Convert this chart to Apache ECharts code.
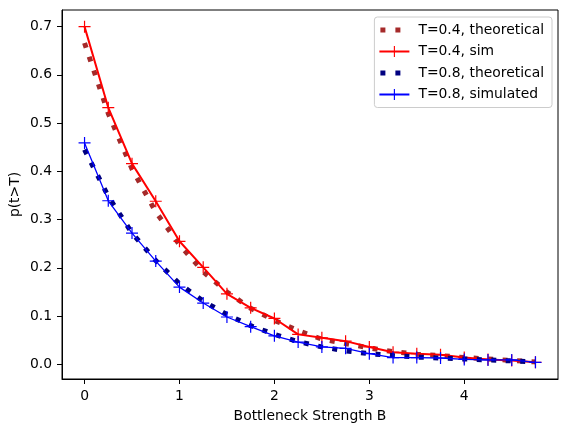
<!DOCTYPE html>
<html>
<head>
<meta charset="utf-8">
<script src="https://cdn.jsdelivr.net/npm/echarts@6/dist/echarts.min.js"></script>
<style>html,body{margin:0;padding:0;background:#fff}#c{width:567px;height:433px}</style>
</head>
<body>
<div id="c"></div>
<script>
// ---- data ----
const B = [0, 0.25, 0.5, 0.75, 1.0, 1.25, 1.5, 1.75, 2.0, 2.25, 2.5, 2.75, 3.0, 3.25, 3.5, 3.75, 4.0, 4.25, 4.5, 4.75];
const theo04 = [0.666, 0.520, 0.405, 0.316, 0.248, 0.192, 0.150, 0.116, 0.091, 0.070, 0.052, 0.043, 0.034, 0.026, 0.021, 0.018, 0.014, 0.011, 0.008, 0.005];
const sim04  = [0.700, 0.532, 0.416, 0.338, 0.255, 0.201, 0.146, 0.117, 0.095, 0.062, 0.055, 0.048, 0.036, 0.025, 0.022, 0.020, 0.014, 0.010, 0.008, 0.004];
const theo08 = [0.445, 0.348, 0.272, 0.215, 0.167, 0.131, 0.103, 0.080, 0.062, 0.047, 0.036, 0.028, 0.022, 0.018, 0.015, 0.013, 0.011, 0.009, 0.007, 0.005];
const sim08  = [0.459, 0.339, 0.272, 0.214, 0.160, 0.127, 0.098, 0.078, 0.059, 0.046, 0.036, 0.033, 0.022, 0.014, 0.014, 0.013, 0.010, 0.009, 0.009, 0.004];
const seriesNames = ['T=0.4, theoretical', 'T=0.4, sim', 'T=0.8, theoretical', 'T=0.8, simulated'];
const xTicks = [0, 1, 2, 3, 4];
const yTicks = [0.0, 0.1, 0.2, 0.3, 0.4, 0.5, 0.6, 0.7];
const xTitle = 'Bottleneck Strength B';
const yTitle = 'p(t>T)';

// ---- styling ----
const FONT = 'DejaVu Sans';
const FS = 13.9;
const plus = 'path://M0,5.4H12V6.6H0Z M5.4,0H6.6V12H5.4Z';
const dotsIcon = 'path://M0,0L30,14L0,0Z M1,4.5H6V9.5H1Z M16,4.5H21V9.5H16Z';

function pairs(xs, ys) { return xs.map((x, i) => [x, ys[i]]); }

const chart = echarts.init(document.getElementById('c'), null, {renderer: 'canvas'});
chart.setOption({
  animation: false,
  backgroundColor: '#fff',
  grid: {left: 62, right: 9, top: 10, bottom: 54, outerBoundsMode: 'none', containLabel: false,
         show: true, borderColor: '#000', borderWidth: 1, backgroundColor: 'transparent'},
  xAxis: {
    type: 'value', min: -0.2375, max: 4.9875,
    name: xTitle, nameLocation: 'middle', nameGap: 30, nameMoveOverlap: false,
    nameTextStyle: {fontFamily: FONT, fontSize: FS, color: '#000'},
    axisLine: {show: true, onZero: false, lineStyle: {color: '#000', width: 1}},
    axisTick: {show: true, inside: false, length: 5, customValues: xTicks, lineStyle: {color: '#000'}},
    axisLabel: {margin: 10, customValues: xTicks, fontFamily: FONT, fontSize: FS, color: '#000', formatter: v => String(v)},
    splitLine: {show: false}
  },
  yAxis: {
    type: 'value', min: -0.0305, max: 0.7345,
    name: yTitle, nameLocation: 'middle', nameGap: 40, nameRotate: 90, nameMoveOverlap: false,
    nameTextStyle: {fontFamily: FONT, fontSize: FS, color: '#000'},
    axisLine: {show: true, onZero: false, lineStyle: {color: '#000', width: 1}},
    axisTick: {show: true, inside: false, length: 5, customValues: yTicks, lineStyle: {color: '#000'}},
    axisLabel: {margin: 10, customValues: yTicks, fontFamily: FONT, fontSize: FS, color: '#000', formatter: v => v.toFixed(1)},
    splitLine: {show: false}
  },
  legend: {
    orient: 'vertical', right: 15, top: 17,
    itemWidth: 30, itemHeight: 14, itemGap: 5.5,
    padding: [5, 8, 5, 4],
    backgroundColor: 'rgba(255,255,255,0.8)', borderColor: '#cccccc', borderWidth: 1, borderRadius: 3,
    textStyle: {fontFamily: FONT, fontSize: FS, color: '#000', lineHeight: 16, padding: [0, 0, 0, 4]},
    itemStyle: {borderWidth: 0},
    data: [
      {name: seriesNames[0], icon: dotsIcon},
      {name: seriesNames[1]},
      {name: seriesNames[2], icon: dotsIcon},
      {name: seriesNames[3]}
    ]
  },
  series: [
    {
      name: seriesNames[0], type: 'line', data: pairs(B, theo04),
      symbol: 'none', color: '#a52a2a',
      lineStyle: {color: '#a52a2a', width: 5, type: [5, 9.5], cap: 'butt'},
      itemStyle: {color: '#a52a2a', borderWidth: 0}, z: 2
    },
    {
      name: seriesNames[1], type: 'line', data: pairs(B, sim04),
      symbol: plus, symbolSize: 12, showSymbol: true, color: '#ff0000',
      lineStyle: {color: '#ff0000', width: 2},
      itemStyle: {color: '#ff0000', borderWidth: 0}, z: 3
    },
    {
      name: seriesNames[2], type: 'line', data: pairs(B, theo08),
      symbol: 'none', color: '#000080',
      lineStyle: {color: '#000080', width: 5, type: [5, 9.5], cap: 'butt'},
      itemStyle: {color: '#000080', borderWidth: 0}, z: 4
    },
    {
      name: seriesNames[3], type: 'line', data: pairs(B, sim08),
      symbol: plus, symbolSize: 12, showSymbol: true, color: '#0000ff',
      lineStyle: {color: '#0000ff', width: 1.3},
      itemStyle: {color: '#0000ff', borderWidth: 0}, z: 5
    }
  ]
});
</script>
</body>
</html>
